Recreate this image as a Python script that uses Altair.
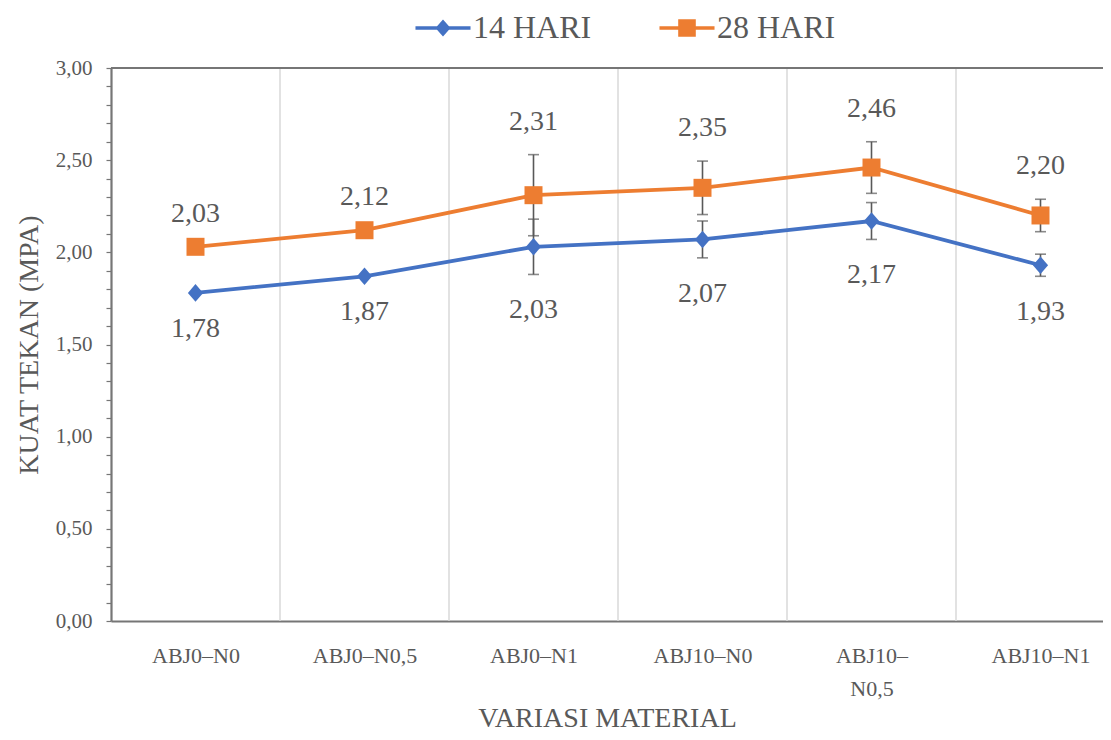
import json
import altair as alt
import pandas as pd

# ---- data ----
categories = ["ABJ0–N0", "ABJ0–N0,5", "ABJ0–N1", "ABJ10–N0", "ABJ10–N0,5", "ABJ10–N1"]
tick_label_lines = [["ABJ0–N0"], ["ABJ0–N0,5"], ["ABJ0–N1"], ["ABJ10–N0"], ["ABJ10–", "N0,5"], ["ABJ10–N1"]]
series_names = ["14 HARI", "28 HARI"]
values_14 = [1.78, 1.87, 2.03, 2.07, 2.17, 1.93]
values_28 = [2.03, 2.12, 2.31, 2.35, 2.46, 2.20]
err_14 = [0.0, 0.0, 0.15, 0.10, 0.10, 0.06]
err_28 = [0.0, 0.0, 0.22, 0.145, 0.14, 0.088]
y_tick_values = [round(i * 0.1, 1) for i in range(31)]

BLUE = "#4472C4"
ORANGE = "#ED7D31"
GREY = "#595959"
FONT = "Liberation Serif"

rows = []
for s, vals, errs in ((series_names[0], values_14, err_14), (series_names[1], values_28, err_28)):
    for i, (c, v, e) in enumerate(zip(categories, vals, errs)):
        rows.append(dict(
            idx=i, cat=c, series=s, value=v, err=e, lo=v - e, hi=v + e,
            label=f"{v:.2f}".replace(".", ","),
            ly=(v - e) if s == series_names[0] else (v + e),
        ))
df = pd.DataFrame(rows)
df14 = df[df["series"] == series_names[0]]
df28 = df[df["series"] == series_names[1]]
df_err = df[df["err"] > 0]
grid_df = pd.DataFrame({"b": [i + 0.5 for i in range(len(categories) - 1)]})

W, H = 992, 553
x_scale = alt.Scale(domain=[-0.5, -0.5 + W / 169.0], nice=False, zero=False)
y_scale = alt.Scale(domain=[0, 3], nice=False, zero=True)

label_expr_x = json.dumps(tick_label_lines, ensure_ascii=False) + "[round(datum.value)]"
label_expr_y = "(round(datum.value*10) % 5 == 0) ? replace(format(datum.value, '.2f'), '.', ',') : ''"

x_axis = alt.Axis(
    values=list(range(len(categories))), labelExpr=label_expr_x, title="VARIASI MATERIAL",
    grid=False, ticks=False, domainColor="#767676", domainWidth=2.2,
    labelFont=FONT, labelFontSize=22, labelColor=GREY, labelPadding=34, labelLineHeight=33,
    labelBaseline="middle", labelOverlap=False,
    titleFont=FONT, titleFontSize=28, titleFontWeight="normal", titleColor=GREY, titlePadding=5,
)
y_axis = alt.Axis(
    values=y_tick_values, labelExpr=label_expr_y, title="KUAT TEKAN (MPA)",
    grid=False, ticks=True, tickSize=5, tickColor="#767676", tickWidth=1.2,
    domainColor="#767676", domainWidth=2.2, labelOverlap=False,
    labelFont=FONT, labelFontSize=21, labelColor=GREY, labelPadding=14,
    titleFont=FONT, titleFontSize=28, titleFontWeight="normal", titleColor=GREY, titlePadding=12,
)


def X(field):
    return alt.X(field, type="quantitative", scale=x_scale, axis=x_axis)


def Y(field):
    return alt.Y(field, type="quantitative", scale=y_scale, axis=y_axis)


color_scale = alt.Scale(domain=series_names, range=[BLUE, ORANGE])

diamond = "M0,-1.1L0.95,0L0,1.1L-0.95,0Z"
leg_diamond = ("M-3.44,-0.22L-0.75,-0.22L0,-1.05L0.75,-0.22L3.44,-0.22L3.44,0.22"
               "L0.75,0.22L0,1.05L-0.75,0.22L-3.44,0.22Z")
leg_square = ("M-3.44,-0.22L-1.1,-0.22L-1.1,-1.1L1.1,-1.1L1.1,-0.22L3.44,-0.22L3.44,0.22"
              "L1.1,0.22L1.1,1.1L-1.1,1.1L-1.1,0.22L-3.44,0.22Z")

legend = alt.Legend(
    title=None, orient="none", direction="horizontal", legendX=297, legendY=-56,
    symbolSize=256, symbolStrokeWidth=0, symbolOffset=19, symbolOpacity=1,
    labelOffset=14, columnPadding=60,
    labelFont=FONT, labelFontSize=32, labelColor=GREY,
)

grid = alt.Chart(grid_df).mark_rule(color="#D9D9D9", strokeWidth=1.5).encode(
    x=X("b"), y=alt.value(0), y2=alt.value(H),
)
top_border = alt.Chart(grid_df).mark_rule(color="#767676", strokeWidth=2.2).encode(
    x=alt.value(0), x2=alt.value(W), y=alt.value(0)
)

err_rule = alt.Chart(df_err).mark_rule(color=GREY, strokeWidth=1.6).encode(
    x=X("idx"), y=Y("lo"), y2="hi:Q"
)
err_cap_lo = alt.Chart(df_err).mark_tick(color=GREY, thickness=1.6, size=11, orient="horizontal").encode(
    x=X("idx"), y=Y("lo")
)
err_cap_hi = alt.Chart(df_err).mark_tick(color=GREY, thickness=1.6, size=11, orient="horizontal").encode(
    x=X("idx"), y=Y("hi")
)

line14 = alt.Chart(df14).mark_line(strokeWidth=3.8, color=BLUE).encode(x=X("idx"), y=Y("value"))
line28 = alt.Chart(df28).mark_line(strokeWidth=3.8, color=ORANGE).encode(x=X("idx"), y=Y("value"))

pts14 = alt.Chart(df14).mark_point(filled=True, opacity=1, shape=diamond, size=256, color=BLUE).encode(
    x=X("idx"), y=Y("value"),
)
pts28 = alt.Chart(df28).mark_point(filled=True, opacity=1, shape="square", size=324, color=ORANGE).encode(
    x=X("idx"), y=Y("value"),
)

legend_layer = alt.Chart(df).mark_point(filled=True, opacity=0).encode(
    x=X("idx"), y=Y("value"),
    color=alt.Color("series:N", scale=color_scale, legend=legend),
    shape=alt.Shape("series:N", scale=alt.Scale(domain=series_names, range=[leg_diamond, leg_square]),
                    legend=legend),
)

lab14 = alt.Chart(df14).mark_text(
    font=FONT, fontSize=28, color=GREY, baseline="middle", dy=36
).encode(x=X("idx"), y=Y("ly"), text="label:N")
lab28 = alt.Chart(df28).mark_text(
    font=FONT, fontSize=28, color=GREY, baseline="middle", dy=-33
).encode(x=X("idx"), y=Y("ly"), text="label:N")

chart = alt.layer(
    grid, top_border, line14, line28, err_rule, err_cap_lo, err_cap_hi, pts14, pts28, legend_layer, lab14, lab28
).properties(
    width=W, height=H,
    autosize=alt.AutoSizeParams(type="none"),
    padding={"left": 103, "top": 60, "right": 0, "bottom": 111},
    background="white",
).configure_view(stroke=None).configure_axis(labelFlush=False)

chart.save("out.html", embed_options={"renderer": "svg", "actions": False})
